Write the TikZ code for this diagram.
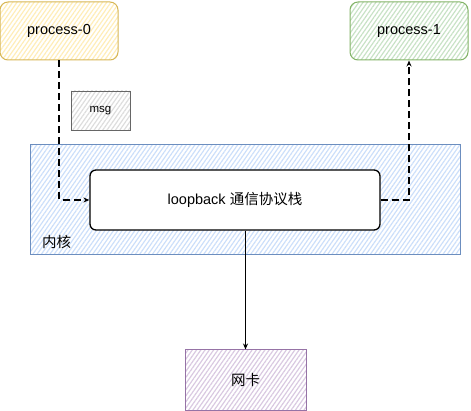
\documentclass[tikz,border=0pt]{standalone}
\usepackage{fontspec}
\setmainfont{Liberation Sans}
\newfontfamily\cjk{Noto Sans CJK SC}
\usetikzlibrary{arrows.meta,patterns.meta}

\definecolor{yelline}{HTML}{D6B656}
\definecolor{yelfill}{HTML}{FFEDB8}
\definecolor{grnline}{HTML}{82B366}
\definecolor{grnfill}{HTML}{C8E2C6}
\definecolor{bluline}{HTML}{6C8EBF}
\definecolor{blufill}{HTML}{CCDFFA}
\definecolor{purline}{HTML}{9673A6}
\definecolor{purfill}{HTML}{D9C9E1}
\definecolor{gryline}{HTML}{666666}
\definecolor{gryfill}{HTML}{DDDDDD}

\begin{document}
\begin{tikzpicture}[
    x=1pt, y=-1pt,
    hatch/.style={pattern={Lines[angle=55,distance=3.5pt,line width=1.2pt]}, pattern color=#1},
    box/.style={draw, line width=1pt, minimum width=118pt, minimum height=58pt, align=center, font=\fontsize{14.5}{17}\selectfont},
    arr/.style={-{Stealth[length=6pt,width=5pt]}, line width=1.1pt},
    dsh/.style={dash pattern=on 7pt off 4pt}
]
\useasboundingbox (0,0) rectangle (471,411);

% kernel area
\node[box, draw=bluline, hatch=blufill, minimum width=430pt, minimum height=110pt] (kern) at (245,200) {};
\node[anchor=west, font=\fontsize{14.5}{17}\selectfont\cjk, inner sep=0pt] (kname) at (42,242) {内核};

\node[box, draw=yelline, hatch=yelfill, rounded corners=8pt] (p0) at (59,31) {process-0};
\node[box, draw=grnline, hatch=grnfill, rounded corners=8pt] (p1) at (409,31) {process-1};
\node[box, draw=gryline, hatch=gryfill, minimum width=59pt, minimum height=39pt, line width=0.8pt, font=\fontsize{11.5}{14}\selectfont] (msg) at (100.5,110.5) {msg};
\node[box, fill=white, rounded corners=6pt, line width=1.3pt, minimum width=290pt, minimum height=60pt] (loop) at (235,200) {loopback {\cjk 通信协议栈}};
\node[box, draw=purline, hatch=purfill, minimum width=121pt, minimum height=60pt, font=\fontsize{14.5}{17}\selectfont\cjk] (nic) at (245.5,380) {网卡};

\draw[arr, dsh] (p0.south) |- (loop.west);
\draw[arr, dsh] (loop.east) -| (p1.south);
\draw[arr] (nic.north |- loop.south) -- (nic.north);
\end{tikzpicture}
\end{document}
